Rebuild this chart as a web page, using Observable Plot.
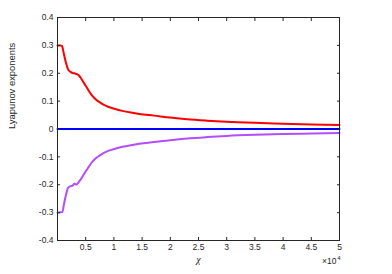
<!DOCTYPE html>
<html>
<head>
<meta charset="utf-8">
<script src="https://cdn.jsdelivr.net/npm/d3@7"></script>
<script src="https://cdn.jsdelivr.net/npm/@observablehq/plot@0.6"></script>
<style>
  html, body { margin: 0; padding: 0; background: #fff; }
  #chart { width: 392px; height: 274px; }
</style>
</head>
<body>
<div id="chart"></div>
<script>
// chi values (in units of 1e4) and exponents
const chiRed = [0.00, 0.05, 0.08, 0.10, 0.12, 0.15, 0.19, 0.23, 0.27, 0.31, 0.345, 0.38, 0.42, 0.46, 0.50, 0.55, 0.60, 0.68, 0.77, 0.86, 0.95, 1.05, 1.15, 1.3, 1.45, 1.71, 2.0, 2.3, 2.65, 3.0, 3.5, 4.0, 4.5, 5.0];
const lambdaMax = [0.300, 0.300, 0.298, 0.282, 0.263, 0.238, 0.213, 0.205, 0.201, 0.199, 0.197, 0.192, 0.181, 0.168, 0.155, 0.138, 0.123, 0.106, 0.093, 0.083, 0.076, 0.070, 0.065, 0.059, 0.054, 0.048, 0.041, 0.035, 0.030, 0.026, 0.022, 0.019, 0.016, 0.014];
const chiPurple = [0.00, 0.05, 0.09, 0.11, 0.14, 0.19, 0.23, 0.27, 0.30, 0.34, 0.37, 0.42, 0.46, 0.50, 0.56, 0.60, 0.68, 0.77, 0.86, 0.95, 1.05, 1.15, 1.3, 1.45, 1.71, 2.0, 2.3, 2.65, 3.0, 3.5, 4.0, 4.5, 5.0];
const lambdaMin = [-0.300, -0.299, -0.297, -0.275, -0.245, -0.210, -0.205, -0.203, -0.196, -0.199, -0.192, -0.178, -0.165, -0.152, -0.134, -0.122, -0.105, -0.092, -0.082, -0.075, -0.069, -0.064, -0.058, -0.053, -0.047, -0.040, -0.034, -0.029, -0.025, -0.021, -0.018, -0.016, -0.014];
const chiZero = [0, 5.0];
const lambdaZero = [0, 0];

const xTicks = [0.5, 1, 1.5, 2, 2.5, 3, 3.5, 4, 4.5, 5].map(d => d * 1e4);
const yTicks = [-0.4, -0.3, -0.2, -0.1, 0, 0.1, 0.2, 0.3, 0.4];
const yLabel = "Lyapunov exponents";
const xLabel = "χ";
const xExpBase = "×10";
const xExpPower = "4";

const red = chiRed.map((c, i) => ({x: c * 1e4, y: lambdaMax[i]}));
const purple = chiPurple.map((c, i) => ({x: c * 1e4, y: lambdaMin[i]}));
const zero = chiZero.map((c, i) => ({x: c * 1e4, y: lambdaZero[i]}));

const axisColor = "#262626";
const font = "Liberation Sans, Arial, Helvetica, sans-serif";

const chart = Plot.plot({
  width: 392,
  height: 274,
  marginLeft: 57,
  marginRight: 53,
  marginTop: 17,
  marginBottom: 34,
  style: {fontFamily: font, fontSize: "8.5px", color: axisColor, background: "#fff"},
  x: {domain: [0, 5e4]},
  y: {domain: [-0.4, 0.4]},
  marks: [
    Plot.line(zero, {x: "x", y: "y", stroke: "#0000ff", strokeWidth: 2}),
    Plot.line(red, {x: "x", y: "y", stroke: "#ff0000", strokeWidth: 2, curve: "monotone-x"}),
    Plot.line(purple, {x: "x", y: "y", stroke: "#b34dff", strokeWidth: 2, curve: "monotone-x"}),
    Plot.frame({stroke: axisColor, strokeWidth: 1}),
    Plot.axisX({anchor: "bottom", ticks: xTicks, tickSize: -3, tickPadding: 6, tickFormat: d => String(d / 1e4), label: null, stroke: axisColor, fill: axisColor}),
    Plot.axisX({anchor: "top", ticks: xTicks, tickSize: -3, tickFormat: () => "", label: null, stroke: axisColor}),
    Plot.axisY({anchor: "left", ticks: yTicks, tickSize: -3, tickPadding: 7, tickFormat: d => String(+d.toFixed(1)), label: null, stroke: axisColor, fill: axisColor}),
    Plot.axisY({anchor: "right", ticks: yTicks, tickSize: -3, tickFormat: () => "", label: null, stroke: axisColor}),
    Plot.text([xLabel], {frameAnchor: "bottom", dy: 22, text: d => d, fontStyle: "italic", fontSize: 10, fill: axisColor, fontFamily: "Liberation Serif, Times New Roman, serif"}),
    Plot.text([xExpBase], {frameAnchor: "bottom-right", dx: -3, dy: 23, text: d => d, textAnchor: "end", fontSize: 8.5, fill: axisColor}),
    Plot.text([xExpPower], {frameAnchor: "bottom-right", dx: 1, dy: 19, text: d => d, textAnchor: "end", fontSize: 6, fill: axisColor}),
    Plot.text([yLabel], {frameAnchor: "left", dx: -46, rotate: -90, text: d => d, fontSize: 9.4, fill: axisColor})
  ]
});
document.getElementById("chart").appendChild(chart);
</script>
</body>
</html>
